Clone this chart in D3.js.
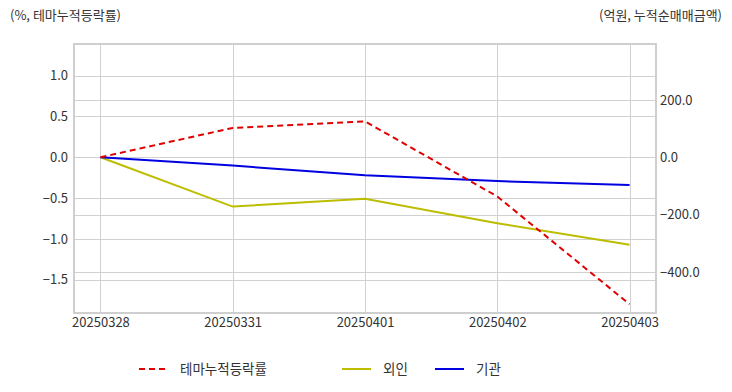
<!DOCTYPE html>
<html>
<head>
<meta charset="utf-8">
<script src="https://cdn.jsdelivr.net/npm/d3@7"></script>
<style>
  body { margin: 0; background: #fff; }
  svg text { font-family: "Noto Sans CJK KR", "Noto Sans", sans-serif; fill: #333; }
</style>
</head>
<body>
<svg id="chart" width="732" height="392"></svg>
<script>
// data
const dates = ["20250328", "20250331", "20250401", "20250402", "20250403"];
const themeRate = [0.0, 0.36, 0.44, -0.48, -1.80];     // %, left axis
const foreign = [0.0, -172, -145, -230, -305];        // 억원, right axis
const institution = [0.0, -29, -63, -83, -97];        // 억원, right axis
const leftTicks = [1.0, 0.5, 0.0, -0.5, -1.0, -1.5];
const rightTicks = [200, 0, -200, -400];

const svg = d3.select("#chart");
const plotL = 74, plotR = 656, plotT = 44, plotB = 313;

const x = d3.scalePoint().domain(dates).range([plotL, plotR]).padding(0.2);
const yL = d3.scaleLinear().domain([-1.908, 1.388]).range([plotB, plotT]);
const yR = d3.scaleLinear().domain([-543, 395]).range([plotB, plotT]);

// grid
const grid = svg.append("g").attr("stroke", "#d0d0d0").attr("stroke-width", 1);
grid.selectAll("line.v").data(dates).enter().append("line")
  .attr("x1", d => Math.round(x(d)) + 0.5).attr("x2", d => Math.round(x(d)) + 0.5)
  .attr("y1", plotT).attr("y2", plotB);
grid.selectAll("line.hl").data(leftTicks).enter().append("line")
  .attr("x1", plotL).attr("x2", plotR)
  .attr("y1", d => Math.round(yL(d)) + 0.5).attr("y2", d => Math.round(yL(d)) + 0.5);
grid.selectAll("line.hr").data(rightTicks).enter().append("line")
  .attr("x1", plotL).attr("x2", plotR)
  .attr("y1", d => Math.round(yR(d)) + 0.5).attr("y2", d => Math.round(yR(d)) + 0.5);

// frame
svg.append("rect")
  .attr("x", plotL).attr("y", plotT)
  .attr("width", plotR - plotL).attr("height", plotB - plotT)
  .attr("fill", "none").attr("stroke", "#cfcfcf").attr("stroke-width", 2);

// axes
const axL = svg.append("g").attr("transform", `translate(${plotL - 4},0)`)
  .call(d3.axisLeft(yL).tickValues(leftTicks).tickFormat(d3.format(".1f")).tickSize(0).tickPadding(2));
const axR = svg.append("g").attr("transform", `translate(${plotR + 2},0)`)
  .call(d3.axisRight(yR).tickValues(rightTicks).tickFormat(d3.format(".1f")).tickSize(0).tickPadding(2));
const axX = svg.append("g").attr("transform", `translate(0,${plotB})`)
  .call(d3.axisBottom(x).tickSize(0).tickPadding(5));
[axL, axR, axX].forEach(g => {
  g.select(".domain").remove();
  g.selectAll("text").attr("font-size", "13px").attr("fill", "#333")
    .style("font-family", '"Noto Sans CJK KR", sans-serif');
});

// lines
const lineL = d3.line().x((d, i) => x(dates[i])).y(d => yL(d));
const lineR = d3.line().x((d, i) => x(dates[i])).y(d => yR(d));

svg.append("path").datum(foreign)
  .attr("fill", "none").attr("stroke", "#bdbd00").attr("stroke-width", 2)
  .attr("d", lineR);
svg.append("path").datum(institution)
  .attr("fill", "none").attr("stroke", "#0000e0").attr("stroke-width", 2)
  .attr("d", lineR);
svg.append("path").datum(themeRate)
  .attr("fill", "none").attr("stroke", "#e00000").attr("stroke-width", 2)
  .attr("stroke-dasharray", "6,4")
  .attr("d", lineL);

// axis titles
svg.append("text").attr("x", 10).attr("y", 20).attr("font-size", "13px")
  .text("(%, 테마누적등락률)");
svg.append("text").attr("x", 722).attr("y", 20).attr("font-size", "13px")
  .attr("text-anchor", "end").text("(억원, 누적순매매금액)");

// legend
const legendItems = [
  { name: "테마누적등락률", color: "#e00000", dash: "6,4", x: 139 },
  { name: "외인", color: "#bdbd00", dash: null, x: 342 },
  { name: "기관", color: "#0000e0", dash: null, x: 435 }
];
const lg = svg.selectAll("g.legend").data(legendItems).enter().append("g")
  .attr("class", "legend")
  .attr("transform", d => `translate(${d.x},369)`);
lg.append("line").attr("x1", 0).attr("x2", 29).attr("y1", 0).attr("y2", 0)
  .attr("stroke", d => d.color).attr("stroke-width", 2)
  .attr("stroke-dasharray", d => d.dash);
lg.append("text").attr("x", 41).attr("dy", "0.35em").attr("font-size", "13.5px")
  .text(d => d.name);
</script>
</body>
</html>
